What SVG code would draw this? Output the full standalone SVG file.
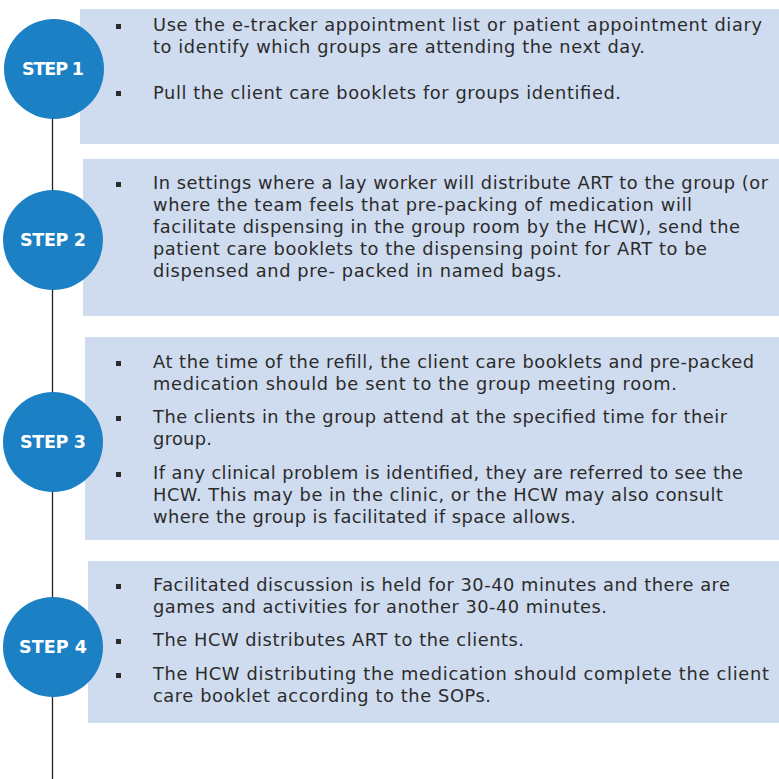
<svg xmlns="http://www.w3.org/2000/svg" width="779" height="779" viewBox="0 0 779 779">
<style>
.box{fill:#cfdcef}
.circ{fill:#1b80c4}
.step{font-family:"DejaVu Sans","Open Sans",sans-serif;font-weight:bold;font-size:17.5px;fill:#fff;text-anchor:middle}
.t{font-family:"DejaVu Sans","Open Sans",sans-serif;font-size:17.8px;fill:#2b2b2b}
.b{fill:#2b2b2b}
</style>
<rect width="779" height="779" fill="#fff"/>
<g id="connectors">
<line x1="52.5" y1="110" x2="52.5" y2="779" stroke="#222" stroke-width="1.3"/>
</g>
<g id="step1">
<rect class="box" x="80" y="9" width="699" height="135"/>
<circle class="circ" cx="54" cy="69" r="50"/>
<text class="step" x="53" y="75" textLength="62" lengthAdjust="spacing">STEP 1</text>
<rect class="b" x="116" y="24" width="5" height="5"/>
<text class="t" x="153" y="31" textLength="609" lengthAdjust="spacing">Use the e-tracker appointment list or patient appointment diary</text>
<text class="t" x="153" y="53" textLength="492" lengthAdjust="spacing">to identify which groups are attending the next day.</text>
<rect class="b" x="116" y="91" width="5" height="5"/>
<text class="t" x="153" y="99" textLength="468" lengthAdjust="spacing">Pull the client care booklets for groups identified.</text>
</g>
<g id="step2">
<rect class="box" x="83" y="159" width="696" height="157"/>
<circle class="circ" cx="53" cy="240" r="50"/>
<text class="step" x="53" y="246" textLength="66" lengthAdjust="spacing">STEP 2</text>
<rect class="b" x="116" y="182" width="5" height="5"/>
<text class="t" x="153" y="189" textLength="615" lengthAdjust="spacing">In settings where a lay worker will distribute ART to the group (or</text>
<text class="t" x="153" y="211" textLength="539" lengthAdjust="spacing">where the team feels that pre-packing of medication will</text>
<text class="t" x="153" y="233" textLength="587" lengthAdjust="spacing">facilitate dispensing in the group room by the HCW), send the</text>
<text class="t" x="153" y="255" textLength="554" lengthAdjust="spacing">patient care booklets to the dispensing point for ART to be</text>
<text class="t" x="153" y="277" textLength="409" lengthAdjust="spacing">dispensed and pre- packed in named bags.</text>
</g>
<g id="step3">
<rect class="box" x="85" y="337" width="694" height="203"/>
<circle class="circ" cx="53" cy="442" r="50"/>
<text class="step" x="53" y="448" textLength="66" lengthAdjust="spacing">STEP 3</text>
<rect class="b" x="116" y="361" width="5" height="5"/>
<text class="t" x="153" y="368" textLength="601" lengthAdjust="spacing">At the time of the refill, the client care booklets and pre-packed</text>
<text class="t" x="153" y="390" textLength="524" lengthAdjust="spacing">medication should be sent to the group meeting room.</text>
<rect class="b" x="116" y="416" width="5" height="5"/>
<text class="t" x="153" y="423" textLength="574" lengthAdjust="spacing">The clients in the group attend at the specified time for their</text>
<text class="t" x="153" y="445" textLength="59" lengthAdjust="spacing">group.</text>
<rect class="b" x="116" y="472" width="5" height="5"/>
<text class="t" x="153" y="479" textLength="590" lengthAdjust="spacing">If any clinical problem is identified, they are referred to see the</text>
<text class="t" x="153" y="501" textLength="570" lengthAdjust="spacing">HCW. This may be in the clinic, or the HCW may also consult</text>
<text class="t" x="153" y="523" textLength="423" lengthAdjust="spacing">where the group is facilitated if space allows.</text>
</g>
<g id="step4">
<rect class="box" x="88" y="561" width="691" height="162"/>
<circle class="circ" cx="53" cy="647" r="50"/>
<text class="step" x="53" y="653" textLength="68" lengthAdjust="spacing">STEP 4</text>
<rect class="b" x="116" y="584" width="5" height="5"/>
<text class="t" x="153" y="591" textLength="577" lengthAdjust="spacing">Facilitated discussion is held for 30-40 minutes and there are</text>
<text class="t" x="153" y="613" textLength="454" lengthAdjust="spacing">games and activities for another 30-40 minutes.</text>
<rect class="b" x="116" y="639" width="5" height="5"/>
<text class="t" x="153" y="646" textLength="371" lengthAdjust="spacing">The HCW distributes ART to the clients.</text>
<rect class="b" x="116" y="673" width="5" height="5"/>
<text class="t" x="153" y="680" textLength="616" lengthAdjust="spacing">The HCW distributing the medication should complete the client</text>
<text class="t" x="153" y="702" textLength="338" lengthAdjust="spacing">care booklet according to the SOPs.</text>
</g>
</svg>
